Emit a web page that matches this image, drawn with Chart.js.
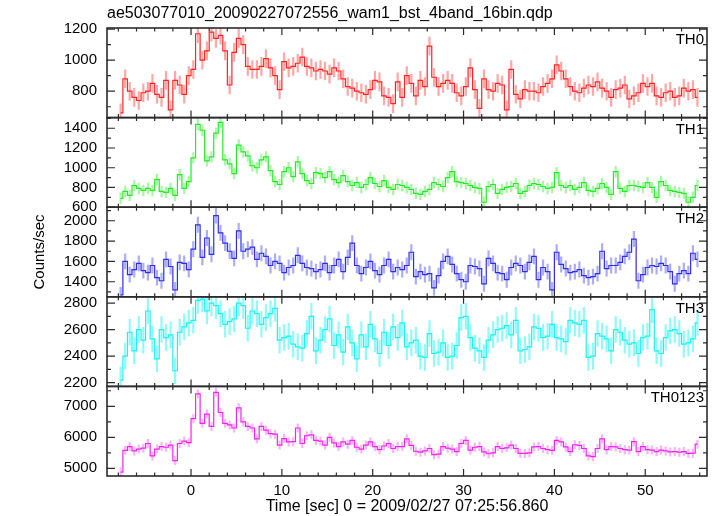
<!DOCTYPE html>
<html><head><meta charset="utf-8">
<script src="https://cdn.jsdelivr.net/npm/chart.js@4.4.1/dist/chart.umd.min.js"></script>
<style>html,body{margin:0;padding:0;background:#fff;}canvas{display:block;}</style>
</head><body>
<canvas id="c" width="717" height="516"></canvas>
<script>
const FONT = "'Liberation Sans', Arial, Helvetica, sans-serif";
Chart.defaults.font.family = FONT;
Chart.defaults.color = '#000';

const titleText = 'ae503077010_20090227072556_wam1_bst_4band_16bin.qdp';
const xTitle = 'Time [sec] 0 = 2009/02/27 07:25:56.860';
const yTitle = 'Counts/sec';
const panelNames = ['TH0', 'TH1', 'TH2', 'TH3', 'TH0123'];

// bin centres (sec)
const times = [
 -7.75,-7.25,-6.75,-6.25,-5.75,-5.25,-4.75,-4.25,-3.75,-3.25,-2.75,-2.25,-1.75,-1.25,-0.75,-0.25,
 0.25,0.75,1.25,1.75,2.25,2.75,3.25,3.75,4.25,4.75,5.25,5.75,6.25,6.75,7.25,7.75,
 8.25,8.75,9.25,9.75,10.25,10.75,11.25,11.75,12.25,12.75,13.25,13.75,14.25,14.75,15.25,15.75,
 16.25,16.75,17.25,17.75,18.25,18.75,19.25,19.75,20.25,20.75,21.25,21.75,22.25,22.75,23.25,23.75,
 24.25,24.75,25.25,25.75,26.25,26.75,27.25,27.75,28.25,28.75,29.25,29.75,30.25,30.75,31.25,31.75,
 32.25,32.75,33.25,33.75,34.25,34.75,35.25,35.75,36.25,36.75,37.25,37.75,38.25,38.75,39.25,39.75,
 40.25,40.75,41.25,41.75,42.25,42.75,43.25,43.75,44.25,44.75,45.25,45.75,46.25,46.75,47.25,47.75,
 48.25,48.75,49.25,49.75,50.25,50.75,51.25,51.75,52.25,52.75,53.25,53.75,54.25,54.75,55.25,55.75
];

const th0 = [
 660,880,800,760,740,790,800,850,780,760,870,680,870,840,780,900,
 940,1170,1000,1060,1180,1140,1160,1060,840,1050,1140,1100,960,940,940,960,
 1010,950,900,810,990,950,960,980,1020,960,950,930,940,930,910,950,
 930,880,830,820,800,790,780,810,870,860,770,760,720,860,760,900,
 850,770,870,830,1090,890,830,850,870,850,790,770,830,950,810,690,
 880,810,800,850,840,680,940,780,750,810,800,800,790,830,850,880,
 970,930,880,830,800,790,820,840,830,860,820,800,760,810,820,840,
 750,770,790,850,830,850,770,760,790,800,760,770,820,800,810,760
];
const th1 = [
 690,760,720,820,790,770,790,770,880,760,750,790,720,930,790,860,
 1100,1440,1380,1070,1110,1350,1460,1080,1040,940,1230,1160,1120,1020,1000,1080,
 1110,970,860,830,960,1000,910,1060,940,870,840,950,940,900,960,880,
 850,920,860,820,850,800,830,900,840,810,870,800,780,830,820,800,
 780,740,730,760,780,850,830,810,900,960,860,850,840,820,800,790,
 650,810,830,740,780,800,810,840,740,760,820,840,830,810,790,800,
 950,820,800,820,780,800,850,770,760,790,840,800,730,960,790,760,
 820,820,810,800,850,800,700,860,820,770,760,750,740,650,700,820
];
const th2 = [
 1270,1600,1470,1520,1580,1510,1490,1560,1440,1410,1620,1550,1320,1590,1580,1520,
 1720,1960,1640,1830,1670,2050,1880,1780,1700,1630,1900,1700,1720,1740,1620,1680,
 1650,1560,1600,1580,1490,1540,1560,1660,1580,1540,1530,1500,1520,1580,1490,1560,
 1620,1500,1640,1780,1560,1480,1540,1600,1510,1470,1560,1620,1500,1540,1520,1560,
 1690,1450,1500,1470,1480,1340,1460,1600,1650,1570,1480,1420,1400,1560,1550,1530,
 1380,1630,1580,1490,1480,1420,1540,1580,1560,1500,1590,1650,1420,1540,1500,1320,
 1690,1570,1530,1490,1500,1520,1460,1440,1450,1480,1700,1530,1560,1560,1590,1650,
 1690,1820,1410,1470,1540,1560,1550,1580,1560,1500,1380,1480,1510,1480,1680,1620
];
const th3 = [
 2220,2400,2580,2440,2600,2520,2740,2530,2380,2600,2540,2560,2290,2580,2620,2650,
 2670,2820,2830,2740,2800,2780,2720,2640,2660,2680,2800,2780,2610,2740,2720,2640,
 2690,2720,2760,2520,2540,2550,2490,2470,2460,2570,2700,2440,2520,2600,2680,2480,
 2560,2430,2620,2500,2380,2560,2470,2640,2530,2420,2580,2480,2620,2540,2650,2470,
 2500,2520,2400,2390,2570,2420,2430,2500,2390,2400,2480,2690,2700,2540,2460,2440,
 2390,2520,2560,2600,2610,2630,2560,2670,2440,2450,2470,2620,2610,2540,2550,2640,
 2540,2530,2510,2670,2650,2640,2670,2390,2400,2570,2550,2530,2440,2600,2580,2520,
 2490,2500,2420,2540,2550,2750,2440,2420,2540,2590,2600,2570,2490,2500,2530,2650
];
const th0123 = [
 4880,5580,5700,5560,5620,5650,5800,5400,5620,5700,5680,5750,5250,5800,5880,5830,
 6600,7400,6450,6750,6350,7450,6800,6450,6400,6300,6950,6500,6350,6300,5950,6350,
 6230,6120,6100,5750,5960,5850,5860,6300,5800,6050,6080,5900,5880,5750,6000,5820,
 5700,5850,5780,5900,5680,5620,5750,5850,5700,5600,5720,5800,5640,5700,5700,5950,
 5740,5550,5520,5560,5640,5440,5460,5700,5650,5620,5540,5800,5900,5590,5680,5700,
 5530,5470,5500,5700,5640,5660,5750,5640,5480,5480,5500,5690,5700,5640,5600,5580,
 5900,5850,5690,5540,5760,5740,5640,5400,5380,5640,5950,5600,5700,5690,5640,5600,
 5590,5860,5540,5700,5600,5590,5540,5590,5560,5530,5540,5520,5540,5480,5490,5780
];

// typical 1-sigma error half-heights
const errTH0 = 60, errTH1 = 58, errTH2 = 78, errTH3 = 100, errTH0123 = 145;

const xTicks = [0, 10, 20, 30, 40, 50];
const yTicksTH0 = [800, 1000, 1200];
const yTicksTH1 = [600, 800, 1000, 1200, 1400];
const yTicksTH2 = [1400, 1600, 1800, 2000];
const yTicksTH3 = [2200, 2400, 2600, 2800];
const yTicksTH0123 = [5000, 6000, 7000];

const panels = [
  {id:'y0', name:panelNames[0], data:th0, err:errTH0, ticks:yTicksTH0, min:630, max:1207, minor:100,
   color:'rgb(255,35,35)', errColor:'rgba(255,80,80,0.5)'},
  {id:'y1', name:panelNames[1], data:th1, err:errTH1, ticks:yTicksTH1, min:600, max:1508, minor:100,
   color:'rgb(35,235,35)', errColor:'rgba(80,240,80,0.5)'},
  {id:'y2', name:panelNames[2], data:th2, err:errTH2, ticks:yTicksTH2, min:1252, max:2133, minor:100,
   color:'rgb(45,45,235)', errColor:'rgba(90,90,240,0.5)'},
  {id:'y3', name:panelNames[3], data:th3, err:errTH3, ticks:yTicksTH3, min:2172, max:2847, minor:100,
   color:'rgb(30,240,240)', errColor:'rgba(70,245,245,0.6)'},
  {id:'y4', name:panelNames[4], data:th0123, err:errTH0123, ticks:yTicksTH0123, min:4753, max:7641, minor:500,
   color:'rgb(240,35,240)', errColor:'rgba(245,90,245,0.45)'}
];

const scales = {
  x: {
    type:'linear', position:'bottom', min:-9.25, max:56.8,
    grid:{display:false, drawTicks:false}, border:{display:false},
    afterBuildTicks: s => { s.ticks = xTicks.map(v => ({value:v})); },
    afterFit: s => { s.height = 40; },
    ticks:{font:{size:15}, color:'#000', padding:6, autoSkip:false, maxRotation:0, callback: v => String(v)},
    title:{display:true, text:xTitle, font:{size:16}, color:'#000', padding:{top:0, bottom:0}}
  }
};
panels.forEach((p, i) => {
  scales[p.id] = {
    type:'linear', position:'left', stack:'panels', stackWeight:1, weight:5 - i,
    min:p.min, max:p.max,
    grid:{display:false, drawTicks:false}, border:{display:false},
    afterBuildTicks: s => { s.ticks = p.ticks.map(v => ({value:v})); },
    afterFit: s => { s.width = 107; },
    ticks:{font:{size:15}, color:'#000', padding:10, autoSkip:false, callback: v => String(v)},
    title: i === 2 ? {display:true, text:yTitle, font:{size:15}, color:'#000', padding:{top:31, bottom:0}}
                   : {display:false}
  };
});

const qdpPlugin = {
  id:'qdp',
  beforeDatasetDraw(chart, args) {
    const ctx = chart.ctx, ca = chart.chartArea;
    const p = panels[args.index];
    const ys = chart.scales[p.id], xs = chart.scales.x;
    ctx.save();
    ctx.beginPath();
    ctx.rect(ca.left, ys.top, ca.right - ca.left, ys.bottom - ys.top);
    ctx.clip();
    ctx.strokeStyle = p.errColor;
    ctx.lineWidth = 2.2;
    ctx.beginPath();
    times.forEach((t, k) => {
      const x = xs.getPixelForValue(t);
      ctx.moveTo(x, ys.getPixelForValue(p.data[k] - p.err));
      ctx.lineTo(x, ys.getPixelForValue(p.data[k] + p.err));
    });
    ctx.stroke();
  },
  afterDatasetDraw(chart) { chart.ctx.restore(); },
  afterDraw(chart) {
    const ctx = chart.ctx, ca = chart.chartArea, xs = chart.scales.x;
    ctx.save();
    panels.forEach(p => {
      const ys = chart.scales[p.id];
      ctx.strokeStyle = '#2b2b2b';
      ctx.lineWidth = 1.6;
      ctx.strokeRect(ca.left, ys.top, ca.right - ca.left, ys.bottom - ys.top);
      ctx.lineWidth = 1.2;
      ctx.beginPath();
      for (let t = -8; t <= 56; t += 2) {
        const x = xs.getPixelForValue(t);
        if (x < ca.left || x > ca.right) continue;
        const L = (t % 10 === 0) ? 7 : 3.5;
        ctx.moveTo(x, ys.top); ctx.lineTo(x, ys.top + L);
        ctx.moveTo(x, ys.bottom); ctx.lineTo(x, ys.bottom - L);
      }
      for (let v = Math.ceil(p.min / p.minor) * p.minor; v <= p.max; v += p.minor) {
        const y = ys.getPixelForValue(v);
        const L = p.ticks.includes(v) ? 8 : 4;
        ctx.moveTo(ca.left, y); ctx.lineTo(ca.left + L, y);
        ctx.moveTo(ca.right, y); ctx.lineTo(ca.right - L, y);
      }
      ctx.stroke();
      ctx.fillStyle = '#000';
      ctx.font = '15px ' + FONT;
      ctx.textAlign = 'right';
      ctx.textBaseline = 'alphabetic';
      ctx.fillText(p.name, ca.right - 3, ys.top + 16);
    });
    ctx.restore();
  }
};

new Chart(document.getElementById('c'), {
  type:'line',
  data:{
    datasets: panels.map(p => ({
      label:p.name,
      data: times.map((t, k) => ({x:t, y:p.data[k]})),
      xAxisID:'x', yAxisID:p.id,
      borderColor:p.color, borderWidth:1.2, pointRadius:0,
      stepped:'middle', fill:false
    }))
  },
  options:{
    responsive:false, animation:false, events:[],
    layout:{padding:{left:0, right:10, top:0, bottom:0}},
    plugins:{
      legend:{display:false}, tooltip:{enabled:false},
      title:{display:true, text:titleText, align:'start', fullSize:false,
             font:{size:16, weight:'normal', lineHeight:1.2}, color:'#000',
             padding:{top:4, bottom:4.8}}
    },
    scales
  },
  plugins:[qdpPlugin]
});
</script></body></html>
